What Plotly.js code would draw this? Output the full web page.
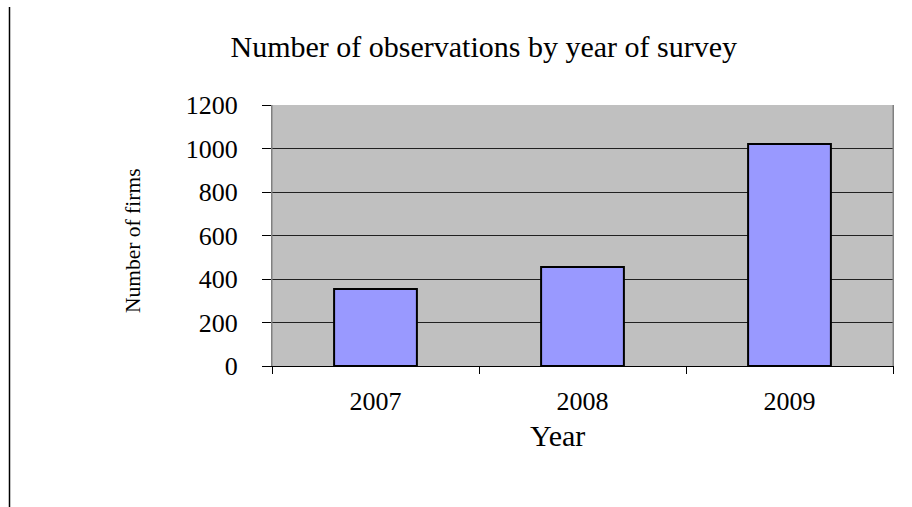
<!DOCTYPE html>
<html>
<head>
<meta charset="utf-8">
<script src="https://cdn.plot.ly/plotly-3.0.1.min.js"></script>
<style>html,body{margin:0;padding:0;background:#fff;}#chart{width:912px;height:507px;}</style>
</head>
<body>
<div id="chart"></div>
<script>
const years = ["2007", "2008", "2009"];
const firms = [354, 455, 1021];
const yTicks = [0, 200, 400, 600, 800, 1000, 1200];

const FONT = "Liberation Serif, DejaVu Serif, serif";

const trace = {
  type: "bar",
  x: years,
  y: firms,
  width: 0.4,
  marker: { color: "#9999ff", line: { color: "#000000", width: 2 } },
  hoverinfo: "none"
};

const layout = {
  width: 912,
  height: 507,
  margin: { l: 272, r: 19, t: 105, b: 141 },
  paper_bgcolor: "#ffffff",
  plot_bgcolor: "#c0c0c0",
  font: { family: FONT, color: "#000000", size: 26 },
  showlegend: false,
  title: {
    text: "Number of observations by year of survey",
    font: { family: FONT, size: 30, color: "#000000" },
    xref: "paper", x: 0.341, xanchor: "center",
    yref: "container", y: 0.909, yanchor: "middle"
  },
  xaxis: {
    type: "category",
    tickson: "boundaries",
    ticks: "outside",
    ticklen: 7,
    tickcolor: "#000000",
    showline: true,
    linecolor: "#000000",
    linewidth: 1,
    showgrid: false,
    tickfont: { family: FONT, size: 26 },
    ticklabelstandoff: 12,
    fixedrange: true
  },
  yaxis: {
    range: [0, 1200],
    tickvals: yTicks,
    ticktext: yTicks.map(String),
    ticks: "outside",
    ticklen: 9,
    tickcolor: "#000000",
    showline: true,
    linecolor: "#808080",
    linewidth: 1,
    mirror: true,
    showgrid: true,
    gridcolor: "#202020",
    gridwidth: 1,
    zeroline: false,
    tickfont: { family: FONT, size: 26 },
    ticklabelstandoff: 19,
    fixedrange: true
  },
  annotations: [
    { text: "Year", xref: "paper", yref: "paper", x: 0.459, y: -0.268,
      xanchor: "center", yanchor: "middle", showarrow: false,
      font: { family: FONT, size: 30, color: "#000000" } },
    { text: "Number of firms", xref: "paper", yref: "paper", x: -0.2238, y: 0.479,
      xanchor: "center", yanchor: "middle", textangle: -90, showarrow: false,
      font: { family: FONT, size: 21.5, color: "#000000" } }
  ],
  shapes: [
    { type: "line", xref: "paper", yref: "paper", x0: 0, x1: 0, y0: 1, y1: 0,
      line: { color: "#808080", width: 1 } },
    { type: "line", xref: "paper", yref: "paper", x0: 1, x1: 1, y0: 1, y1: 0,
      line: { color: "#808080", width: 1 } }
  ]
};

Plotly.newPlot("chart", [trace], layout, { displayModeBar: false, staticPlot: true }).then(function () {
  // page border line at left (part of the original figure frame)
  const svg = document.querySelector("#chart .main-svg");
  const ns = "http://www.w3.org/2000/svg";
  const ln = document.createElementNS(ns, "line");
  ln.setAttribute("x1", 9.5); ln.setAttribute("x2", 9.5);
  ln.setAttribute("y1", 7); ln.setAttribute("y2", 507);
  ln.setAttribute("stroke", "#000000"); ln.setAttribute("stroke-width", 1.5);
  svg.appendChild(ln);
});
</script>
</body>
</html>
